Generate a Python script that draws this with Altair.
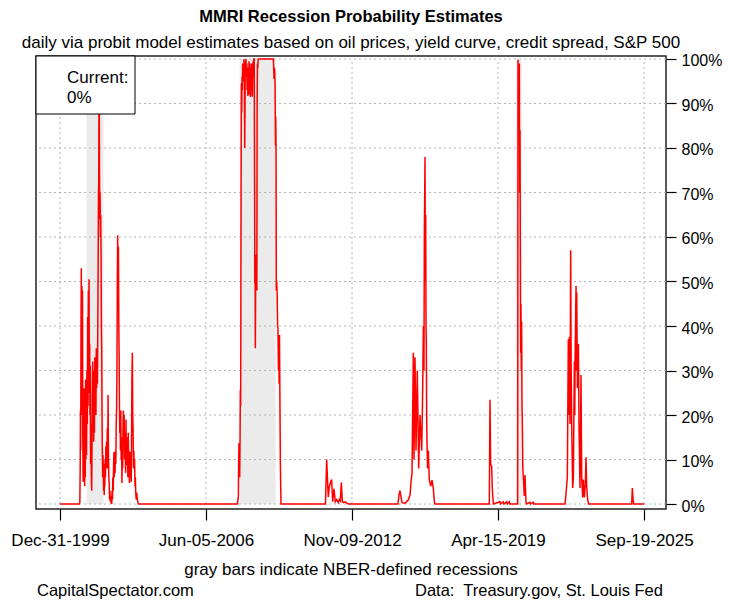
import altair as alt
import pandas as pd

# ---- data (date, probability in %) ----
ep_2001 = [
    ("1999-12-31", 0), ("2000-11-06", 0), ("2000-11-14", 0.5), ("2000-11-20", 8), ("2000-11-24", 21),
    ("2000-11-28", 12), ("2000-12-03", 40), ("2000-12-08", 53), ("2000-12-12", 30), ("2000-12-17", 49),
    ("2000-12-22", 20), ("2000-12-27", 48), ("2001-01-01", 15), ("2001-01-06", 5), ("2001-01-11", 22),
    ("2001-01-16", 8), ("2001-01-21", 26), ("2001-01-26", 14), ("2001-01-31", 4), ("2001-02-05", 16),
    ("2001-02-10", 6), ("2001-02-15", 28), ("2001-02-20", 10), ("2001-02-25", 18), ("2001-03-02", 11),
    ("2001-03-08", 30), ("2001-03-14", 18), ("2001-03-20", 42), ("2001-03-26", 22), ("2001-03-31", 48),
    ("2001-04-05", 30), ("2001-04-11", 50.5), ("2001-04-16", 25), ("2001-04-21", 36), ("2001-04-26", 20),
    ("2001-05-01", 31), ("2001-05-06", 9), ("2001-05-12", 18), ("2001-05-18", 6), ("2001-05-24", 3),
    ("2001-05-29", 14), ("2001-06-03", 25), ("2001-06-09", 32), ("2001-06-14", 18), ("2001-06-20", 28),
    ("2001-06-25", 14), ("2001-07-01", 30), ("2001-07-07", 16), ("2001-07-13", 33), ("2001-07-19", 24),
    ("2001-07-25", 31), ("2001-07-31", 20), ("2001-08-06", 35), ("2001-08-12", 26), ("2001-08-18", 33),
    ("2001-08-24", 27), ("2001-08-30", 40), ("2001-09-05", 55), ("2001-09-10", 70), ("2001-09-14", 72),
    ("2001-09-18", 90), ("2001-09-22", 95), ("2001-09-26", 75), ("2001-10-01", 64), ("2001-10-06", 70),
    ("2001-10-11", 60), ("2001-10-16", 65), ("2001-10-22", 55), ("2001-10-27", 40), ("2001-11-01", 34),
    ("2001-11-06", 20), ("2001-11-11", 12), ("2001-11-16", 6), ("2001-11-21", 11), ("2001-11-26", 8),
    ("2001-12-01", 3), ("2001-12-06", 9), ("2001-12-11", 2), ("2001-12-16", 7), ("2001-12-21", 4),
    ("2001-12-26", 10), ("2001-12-31", 6), ("2002-01-06", 13), ("2002-01-12", 8), ("2002-01-18", 14),
    ("2002-01-24", 10), ("2002-01-30", 17), ("2002-02-05", 8), ("2002-02-11", 24.5), ("2002-02-17", 12),
    ("2002-02-23", 6), ("2002-03-01", 4.7), ("2002-03-07", 1), ("2002-03-13", 3), ("2002-03-19", 0.5),
    ("2002-03-26", 1.8), ("2002-04-02", 0.3), ("2002-04-11", 0), ("2002-04-17", 3), ("2002-04-23", 1),
    ("2002-04-29", 6), ("2002-05-05", 3), ("2002-05-11", 9), ("2002-05-17", 11.7), ("2002-05-23", 6),
    ("2002-05-29", 10), ("2002-06-04", 7), ("2002-06-10", 12), ("2002-06-16", 9), ("2002-06-22", 18),
    ("2002-06-28", 21), ("2002-07-04", 30), ("2002-07-10", 50), ("2002-07-16", 60.4), ("2002-07-22", 45),
    ("2002-07-28", 57.8), ("2002-08-03", 40), ("2002-08-08", 34), ("2002-08-13", 22), ("2002-08-18", 16),
    ("2002-08-23", 20), ("2002-08-29", 12), ("2002-09-04", 21), ("2002-09-10", 10), ("2002-09-16", 15),
    ("2002-09-22", 4.7), ("2002-09-28", 12), ("2002-10-04", 8), ("2002-10-10", 18), ("2002-10-16", 21),
    ("2002-10-22", 14), ("2002-10-28", 20), ("2002-11-03", 10), ("2002-11-09", 16), ("2002-11-15", 11.7),
    ("2002-11-21", 7), ("2002-11-27", 19), ("2002-12-03", 10), ("2002-12-09", 15), ("2002-12-15", 8.7),
    ("2002-12-21", 12), ("2002-12-27", 6), ("2003-01-02", 16), ("2003-01-08", 9), ("2003-01-14", 12),
    ("2003-01-20", 4.7), ("2003-01-26", 8), ("2003-02-01", 11.7), ("2003-02-07", 6), ("2003-02-13", 10),
    ("2003-02-19", 5), ("2003-02-25", 18), ("2003-03-03", 30), ("2003-03-09", 34), ("2003-03-15", 20),
    ("2003-03-21", 16), ("2003-03-27", 8), ("2003-04-02", 12), ("2003-04-08", 8), ("2003-04-14", 10),
    ("2003-04-20", 4), ("2003-04-26", 6), ("2003-05-02", 2.6), ("2003-05-10", 1), ("2003-05-18", 2.6),
    ("2003-05-28", 1), ("2003-06-05", 0.5), ("2003-06-13", 0),
]
ep_2008 = [
    ("2007-10-23", 0), ("2007-11-01", 1), ("2007-11-08", 1.6), ("2007-11-13", 10), ("2007-11-18", 13.7),
    ("2007-11-23", 8), ("2007-11-29", 6), ("2007-12-05", 15), ("2007-12-10", 25.6), ("2007-12-15", 22),
    ("2007-12-20", 60), ("2007-12-26", 94.5), ("2008-01-01", 88), ("2008-01-06", 96), ("2008-01-11", 93),
    ("2008-01-16", 99), ("2008-01-21", 95), ("2008-01-27", 99), ("2008-02-01", 96), ("2008-02-06", 100),
    ("2008-02-12", 98), ("2008-02-18", 80), ("2008-02-23", 90), ("2008-02-28", 99.5), ("2008-03-05", 97),
    ("2008-03-10", 100), ("2008-03-16", 96), ("2008-03-22", 99), ("2008-03-28", 93), ("2008-04-03", 98),
    ("2008-04-09", 91.7), ("2008-04-15", 97), ("2008-04-21", 92), ("2008-04-27", 99.5), ("2008-05-03", 96),
    ("2008-05-09", 99), ("2008-05-15", 92), ("2008-05-21", 91.5), ("2008-05-27", 98), ("2008-06-02", 95),
    ("2008-06-08", 99), ("2008-06-14", 94), ("2008-06-20", 91.5), ("2008-06-26", 97), ("2008-07-02", 99.5),
    ("2008-07-08", 96), ("2008-07-14", 100), ("2008-07-20", 100), ("2008-07-26", 70), ("2008-07-30", 49.6),
    ("2008-08-03", 55), ("2008-08-07", 35), ("2008-08-12", 50), ("2008-08-16", 56), ("2008-08-21", 49),
    ("2008-08-26", 52), ("2008-08-31", 48), ("2008-09-05", 90), ("2008-09-10", 99), ("2008-09-15", 98),
    ("2008-09-22", 100), ("2009-05-24", 100), ("2009-06-04", 95.5), ("2009-06-12", 98), ("2009-06-20", 94.5),
    ("2009-06-27", 80.5), ("2009-07-01", 87), ("2009-07-06", 80), ("2009-07-10", 48), ("2009-07-17", 50),
    ("2009-07-24", 47), ("2009-07-31", 40), ("2009-08-06", 39.5), ("2009-08-13", 30), ("2009-08-19", 38),
    ("2009-08-24", 27), ("2009-08-30", 38), ("2009-09-03", 30), ("2009-09-08", 20), ("2009-09-14", 8.7),
    ("2009-09-20", 3), ("2009-09-24", 0),
]
ep_2012 = [
    ("2011-09-09", 0), ("2011-09-28", 10), ("2011-10-24", 1.6), ("2011-11-09", 3.8), ("2011-12-01", 5),
    ("2011-12-17", 5.5), ("2012-01-03", 0.5), ("2012-01-24", 3.4), ("2012-02-14", 0.5), ("2012-03-07", 1),
    ("2012-04-03", 0.3), ("2012-04-19", 1), ("2012-05-05", 0.7), ("2012-05-21", 4.8), ("2012-06-07", 0.5),
    ("2012-06-23", 0.3), ("2012-07-20", 0.5), ("2012-08-16", 0.2), ("2012-09-11", 0),
]
ep_2016 = [
    ("2014-11-18", 0), ("2014-12-04", 2), ("2014-12-20", 3), ("2015-01-22", 0.3), ("2015-03-11", 0.2),
    ("2015-05-03", 0.9), ("2015-05-31", 2), ("2015-06-16", 5), ("2015-07-02", 7), ("2015-07-23", 34),
    ("2015-08-03", 10), ("2015-08-19", 33), ("2015-09-04", 12), ("2015-09-25", 30), ("2015-10-17", 8),
    ("2015-11-07", 20), ("2015-12-05", 12), ("2015-12-20", 25), ("2015-12-31", 40), ("2016-01-10", 30),
    ("2016-01-16", 60), ("2016-01-27", 78), ("2016-02-02", 50), ("2016-02-07", 65), ("2016-02-12", 40),
    ("2016-02-17", 36), ("2016-02-22", 20), ("2016-02-28", 14), ("2016-03-08", 8), ("2016-03-20", 12),
    ("2016-04-05", 5.4), ("2016-04-28", 4), ("2016-05-19", 5.4), ("2016-06-09", 3.4), ("2016-06-25", 0.5),
    ("2016-07-06", 0),
]
ep_2020 = [
    ("2018-11-26", 0), ("2018-12-07", 23.4), ("2018-12-18", 8.8), ("2019-01-03", 8.5), ("2019-01-14", 3.2),
    ("2019-01-30", 0), ("2019-05-17", 0.5), ("2019-05-27", 0), ("2019-07-09", 0.5), ("2019-07-19", 0),
    ("2019-09-01", 0.5), ("2019-09-11", 0), ("2019-10-14", 0.5), ("2019-10-24", 0), ("2020-02-25", 0),
    ("2020-03-02", 99.8), ("2020-03-08", 92), ("2020-03-13", 99), ("2020-03-18", 90), ("2020-03-23", 99),
    ("2020-03-28", 70), ("2020-04-03", 84), ("2020-04-08", 57), ("2020-04-13", 34), ("2020-04-18", 45),
    ("2020-04-24", 30), ("2020-04-29", 41), ("2020-05-05", 22), ("2020-05-10", 19), ("2020-05-18", 8),
    ("2020-05-26", 6), ("2020-06-11", 1.8), ("2020-06-22", 6.5), ("2020-07-08", 0.4), ("2020-07-19", 0),
    ("2020-09-11", 0.4), ("2020-09-20", 0), ("2020-11-03", 0.4), ("2020-11-10", 0),
]
ep_2022 = [
    ("2022-03-27", 0), ("2022-04-12", 2.2), ("2022-05-04", 6), ("2022-05-20", 37), ("2022-05-28", 20),
    ("2022-06-05", 37.5), ("2022-06-16", 18), ("2022-06-27", 57), ("2022-07-05", 30), ("2022-07-13", 18),
    ("2022-07-29", 3.6), ("2022-08-09", 6), ("2022-08-25", 32), ("2022-09-01", 20), ("2022-09-05", 32),
    ("2022-09-21", 49), ("2022-09-27", 30), ("2022-10-02", 47.5), ("2022-10-13", 26), ("2022-10-29", 36),
    ("2022-11-08", 17.5), ("2022-11-24", 3.6), ("2022-12-10", 29), ("2022-12-21", 6), ("2023-01-06", 1.5),
    ("2023-01-17", 5.5), ("2023-02-02", 1.5), ("2023-02-18", 4.5), ("2023-02-28", 10.5), ("2023-03-11", 4),
    ("2023-03-27", 1), ("2023-04-12", 0),
]
ep_2025 = [
    ("2025-03-04", 0), ("2025-03-15", 3.6), ("2025-03-26", 1), ("2025-04-05", 0), ("2025-09-19", 0),
]

rec_start = ["2001-03-01", "2007-12-01", "2020-02-01"]
rec_end = ["2001-11-30", "2009-06-30", "2020-04-30"]
tick_dates = ["1999-12-31", "2006-06-05", "2012-11-09", "2019-04-15", "2025-09-19"]
y_ticks = [0, 10, 20, 30, 40, 50, 60, 70, 80, 90, 100]

title_text = "MMRI Recession Probability Estimates"
subtitle_text = "daily via probit model estimates based on oil prices, yield curve, credit spread, S&P 500"
note_text = "gray bars indicate NBER-defined recessions"
left_credit = "CapitalSpectator.com"
right_credit = "Data:\u00a0 Treasury.gov, St. Louis Fed"
current_lines = ["Current:", "0%"]

# ---- tables ----
series = pd.DataFrame(ep_2001 + ep_2008 + ep_2012 + ep_2016 + ep_2020 + ep_2022 + ep_2025,
                      columns=["date", "prob"])
recs = pd.DataFrame({"start": rec_start, "end": rec_end, "top": 100, "bottom": 0})
vgrid = pd.DataFrame({"date": tick_dates, "lo": 0, "hi": 100})
hgrid = pd.DataFrame({"v": y_ticks})

W, H = 630, 453
FONT = "Liberation Sans"

xscale = alt.Scale(
    type="utc",
    domain=[alt.DateTime(year=1998, month=12, date=10, utc=True),
            alt.DateTime(year=2026, month=9, date=7, utc=True)],
)
yscale = alt.Scale(domain=[-1.12, 100.67], nice=False, zero=False)

xaxis = alt.Axis(
    values=[alt.DateTime(year=int(d[:4]), month=int(d[5:7]), date=int(d[8:]), utc=True) for d in tick_dates],
    format="%b-%d-%Y", title=None, grid=False, domain=False,
    tickSize=11, tickColor="#000", tickWidth=1.2, labelPadding=12,
    labelFont=FONT, labelFontSize=17, labelColor="#000", labelFlush=False,
    labelOverlap=False,
)
yaxis = alt.Axis(
    orient="right", values=y_ticks, labelExpr="datum.value + '%'", title=None,
    grid=False, domain=False, tickSize=10, tickColor="#000", tickWidth=1.2,
    labelPadding=5, labelOffset=2, labelFont=FONT, labelFontSize=16, labelColor="#000",
)


def X(field):
    return alt.X(field, scale=xscale, axis=xaxis)


def Y(field):
    return alt.Y(field, scale=yscale, axis=yaxis)


bars = alt.Chart(recs).mark_rect(color="#EBEBEB").encode(
    x=X("start:T"), x2="end:T", y=Y("top:Q"), y2="bottom:Q",
)

hlines = alt.Chart(hgrid).mark_rule(color="#B4B4B4", strokeDash=[2, 3], strokeWidth=1).encode(
    y=Y("v:Q")
)
vlines = alt.Chart(vgrid).mark_rule(color="#B4B4B4", strokeDash=[2, 3], strokeWidth=1).encode(
    x=X("date:T"), y=Y("lo:Q"), y2="hi:Q",
)

line = alt.Chart(series).mark_line(color="#FF0000", strokeWidth=1.5, interpolate="linear").encode(
    x=X("date:T"), y=Y("prob:Q"),
)

legend_box = alt.Chart(pd.DataFrame({"a": [0]})).mark_rect(
    fill="white", stroke="#000", strokeWidth=1
).encode(x=alt.value(0), x2=alt.value(99), y=alt.value(0), y2=alt.value(58))


def label(txt, x, y, align="center", size=17, weight="normal"):
    return alt.Chart(pd.DataFrame({"t": [txt]})).mark_text(
        align=align, baseline="middle", font=FONT, fontSize=size, fontWeight=weight, color="#000"
    ).encode(text="t:N", x=alt.value(x), y=alt.value(y))


texts = [
    label(current_lines[0], 31, 22, align="left"),
    label(current_lines[1], 31, 42, align="left"),
    label(title_text, 315, -39, size=16.5, weight="bold"),
    label(subtitle_text, 315, -13),
    label(note_text, 315, 514),
    label(left_credit, 1, 535, align="left", size=16.5),
    label(right_credit, 379, 535, align="left", size=16.5),
]

chart = alt.layer(bars, hlines, vlines, line, legend_box, *texts).properties(
    width=W, height=H,
    autosize=alt.AutoSizeParams(type="none"),
    padding={"left": 28, "top": 48, "right": 56, "bottom": 92},
).configure_view(stroke="#222", strokeWidth=1.5)

chart.save("out.html", embed_options={"renderer": "svg", "actions": False})
